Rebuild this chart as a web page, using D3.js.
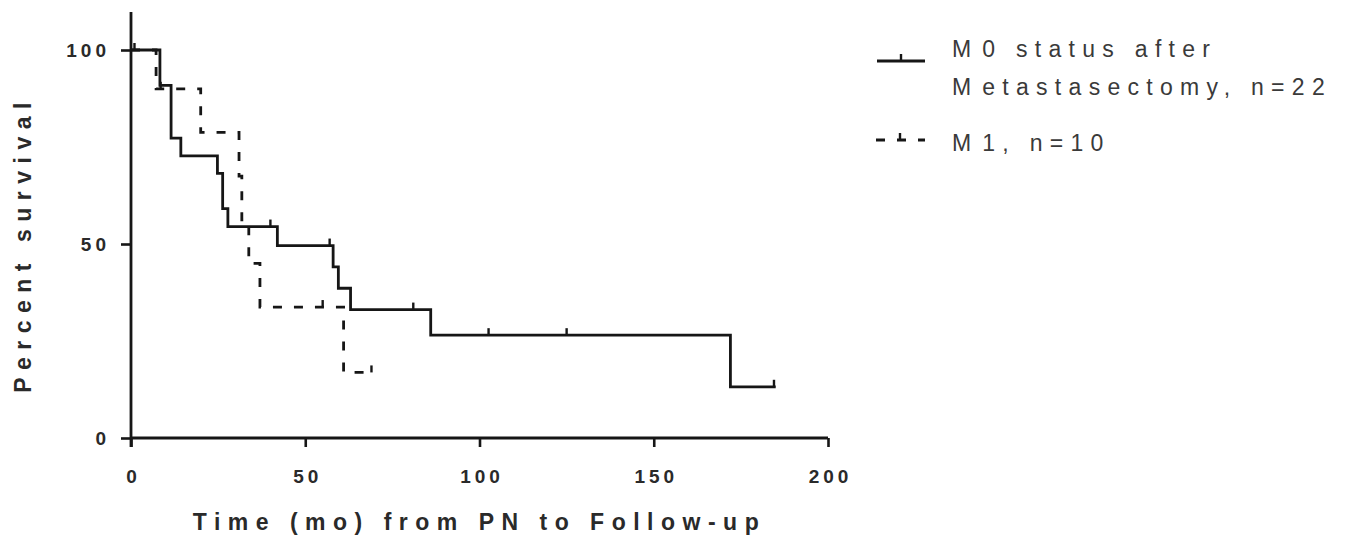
<!DOCTYPE html>
<html>
<head>
<meta charset="utf-8">
<script src="https://cdn.jsdelivr.net/npm/d3@7"></script>
<style>
  html, body { margin: 0; padding: 0; background: #fff; }
  svg { display: block; }
</style>
</head>
<body>
<svg id="chart" width="1352" height="547"></svg>
<script>
// ---- Data ----
const m0Label = ["M0 status after", "Metastasectomy, n=22"];
const m1Label = ["M1, n=10"];
// M0: step times (months) and survival (%) after each step
const m0Time = [0, 8.3, 11.5, 14.3, 24.8, 26.3, 27.8, 42, 58, 59.5, 63, 86, 172, 185];
const m0Surv = [100, 90.9, 77.3, 72.7, 68.2, 59.1, 54.5, 49.6, 44.1, 38.6, 33.1, 26.5, 13.2, 13.2];
const m0Censor = [1, 40, 57, 81, 102.6, 125, 184.5];
// M1
const m1Time = [0, 7.2, 20, 31, 31.8, 33.8, 37, 61, 69.3];
const m1Surv = [100, 90, 78.75, 67.5, 56.25, 45, 33.75, 16.9, 16.9];
const m1Censor = [8.5, 55, 69];
const xTicks = [0, 50, 100, 150, 200];
const yTicks = [0, 50, 100];
const xTitle = "Time (mo) from PN to Follow-up";
const yTitle = "Percent survival";

// ---- Layout ----
const svg = d3.select("#chart");
const x = d3.scaleLinear().domain([0, 200]).range([131, 828]);
const y = d3.scaleLinear().domain([0, 100]).range([438, 50]);
const ink = "#161616";
const font = "'Liberation Sans', Arial, sans-serif";

// step value lookup
function survAt(times, survs, t) {
  let v = survs[0];
  for (let i = 0; i < times.length; i++) { if (times[i] <= t) v = survs[i]; }
  return v;
}

// ---- Axes ----
const xAxis = svg.append("g").attr("transform", `translate(0,${y(0)})`)
  .call(d3.axisBottom(x).tickValues(xTicks).tickSize(9).tickSizeOuter(0).tickPadding(23));
const yAxis = svg.append("g").attr("transform", `translate(${x(0)},0)`)
  .call(d3.axisLeft(y).tickValues(yTicks).tickSize(10).tickSizeOuter(0).tickPadding(11));
[xAxis, yAxis].forEach(g => {
  g.selectAll("path.domain").remove();
  g.selectAll(".tick line").attr("stroke", ink).attr("stroke-width", 2.6);
  g.selectAll(".tick text")
    .attr("fill", "#2a2a2a")
    .style("font-family", font)
    .style("font-weight", "bold")
    .style("font-size", "19px")
    .style("letter-spacing", "4px");
});
xAxis.selectAll(".tick text").attr("dy", "0.71em").attr("dx", "2px");
// axis lines
svg.append("line").attr("x1", x(0)).attr("x2", x(200)).attr("y1", y(0)).attr("y2", y(0))
  .attr("stroke", ink).attr("stroke-width", 2.8);
svg.append("line").attr("x1", x(0)).attr("x2", x(0)).attr("y1", y(0) + 9).attr("y2", 12)
  .attr("stroke", ink).attr("stroke-width", 2.8);

// axis titles
svg.append("text").attr("x", (x(0) + x(200)) / 2).attr("y", 530)
  .attr("text-anchor", "middle").attr("fill", "#2a2a2a")
  .style("font-family", font)
  .style("font-weight", "bold").style("font-size", "23px").style("letter-spacing", "7.5px")
  .text(xTitle);
svg.append("text").attr("transform", `translate(31,${y(50)}) rotate(-90)`)
  .attr("text-anchor", "middle").attr("fill", "#2a2a2a")
  .style("font-family", font)
  .style("font-weight", "bold").style("font-size", "23px").style("letter-spacing", "7.5px")
  .text(yTitle);

// ---- Curves ----
const line = d3.line().x(d => x(d.t)).y(d => y(d.s)).curve(d3.curveStepAfter);
function series(times, survs) { return times.map((t, i) => ({ t, s: survs[i] })); }

svg.append("path").datum(series(m1Time, m1Surv)).attr("d", line)
  .attr("fill", "none").attr("stroke", ink).attr("stroke-width", 2.8)
  .attr("stroke-dasharray", "9,12");
svg.append("path").datum(series(m0Time, m0Surv)).attr("d", line)
  .attr("fill", "none").attr("stroke", ink).attr("stroke-width", 2.8);

// censor ticks
svg.append("g").selectAll("line").data(m0Censor).join("line")
  .attr("x1", d => x(d)).attr("x2", d => x(d))
  .attr("y1", d => y(survAt(m0Time, m0Surv, d))).attr("y2", d => y(survAt(m0Time, m0Surv, d)) - 7)
  .attr("stroke", ink).attr("stroke-width", 2.4);
svg.append("g").selectAll("line").data(m1Censor).join("line")
  .attr("x1", d => x(d)).attr("x2", d => x(d))
  .attr("y1", d => y(survAt(m1Time, m1Surv, d))).attr("y2", d => y(survAt(m1Time, m1Surv, d)) - 7)
  .attr("stroke", ink).attr("stroke-width", 2.4);

// ---- Legend ----
const lg = svg.append("g");
function legText(str, yy) {
  const t = lg.append("text").attr("x", 952).attr("y", yy).attr("fill", "#3a3a3a")
    .style("font-family", font).style("font-size", "23px").style("letter-spacing", "7.3px");
  // the source rendering leaves a wider gap after a leading "M"
  t.append("tspan").style("letter-spacing", "11px").text(str.slice(0, 1));
  t.append("tspan").text(str.slice(1));
}
lg.append("line").attr("x1", 877).attr("x2", 925).attr("y1", 61).attr("y2", 61)
  .attr("stroke", ink).attr("stroke-width", 2.8);
lg.append("line").attr("x1", 901).attr("x2", 901).attr("y1", 61).attr("y2", 54)
  .attr("stroke", ink).attr("stroke-width", 2.4);
m0Label.forEach((t, i) => legText(t, 57 + i * 38));
lg.append("line").attr("x1", 876).attr("x2", 925).attr("y1", 140).attr("y2", 140)
  .attr("stroke", ink).attr("stroke-width", 2.8).attr("stroke-dasharray", "9,12");
lg.append("line").attr("x1", 900).attr("x2", 900).attr("y1", 140).attr("y2", 133)
  .attr("stroke", ink).attr("stroke-width", 2.4);
m1Label.forEach((t, i) => legText(t, 151 + i * 38));
</script>
</body>
</html>
